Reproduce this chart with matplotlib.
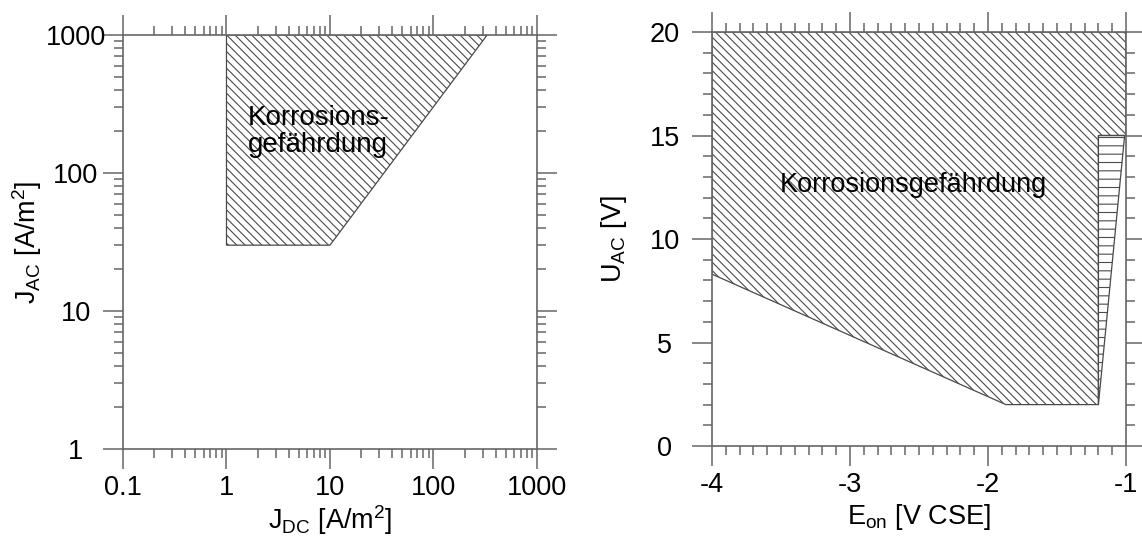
import numpy as np
import matplotlib
matplotlib.use("Agg")
import matplotlib.pyplot as plt
from matplotlib.ticker import LogLocator, MultipleLocator, FixedLocator, NullFormatter

plt.rcParams['font.family'] = ['Liberation Sans', 'DejaVu Sans']
plt.rcParams['mathtext.fontset'] = 'custom'
plt.rcParams['mathtext.rm'] = 'Liberation Sans'
plt.rcParams['mathtext.it'] = 'Liberation Sans:italic'
plt.rcParams['hatch.linewidth'] = 0.8
plt.rcParams['hatch.color'] = '#4a4a4a'

# left panel: J_AC vs J_DC, hatched area
jdc_x = [1, 1, 10, 330]
jac_y = [1000, 30, 30, 1000]
left_ticks = [0.1, 1, 10, 100, 1000]
left_yticks = [1, 10, 100, 1000]
left_ticklabels = ['0.1', '1', '10', '100', '1000']
left_yticklabels = ['1', '10', '100', '1000']

# right panel: U_AC vs E_on
eon_x = [-4, -1, -1, -1.2, -1.2, -1.87, -4]
uac_y = [20, 20, 15, 15, 2, 2, 8.3]
tri_x = [-1.2, -1.01, -1.2]
tri_y = [15, 15, 2]
right_xticks = [-4, -3, -2, -1]
right_yticks = [0, 5, 10, 15, 20]

axcol = '#666666'
fs = 19.5

fig = plt.figure(figsize=(11.42, 5.36), dpi=100)
ax1 = fig.add_axes([0.1077, 0.1623, 0.3625, 0.7724])
ax2 = fig.add_axes([0.6235, 0.1679, 0.3625, 0.7724])


def style(ax):
    for s in ax.spines.values():
        s.set_color(axcol)
        s.set_linewidth(1.2)
    ax.tick_params(which='both', direction='out', top=True, right=True,
                   color=axcol, width=1.1, labelsize=fs)
    ax.tick_params(which='major', length=14.5, pad=4)
    ax.tick_params(which='minor', length=6.5)
    ax.tick_params(axis='y', which='major', pad=19.5)
    for lab in ax.get_yticklabels():
        lab.set_horizontalalignment('center')


# ---- left
ax1.set_xscale('log')
ax1.set_yscale('log')
ax1.set_xlim(0.1, 1000)
ax1.set_ylim(1, 1000)
ax1.fill(jdc_x, jac_y, facecolor='none', edgecolor='#4a4a4a', hatch='\\\\\\\\', linewidth=0.9)
ax1.xaxis.set_major_locator(FixedLocator(left_ticks))
ax1.yaxis.set_major_locator(FixedLocator(left_yticks))
ax1.set_xticklabels(left_ticklabels)
ax1.set_yticklabels(left_yticklabels)
ax1.xaxis.set_minor_locator(LogLocator(base=10, subs=np.arange(2, 10), numticks=20))
ax1.yaxis.set_minor_locator(LogLocator(base=10, subs=np.arange(2, 10), numticks=20))
ax1.xaxis.set_minor_formatter(NullFormatter())
ax1.yaxis.set_minor_formatter(NullFormatter())
style(ax1)
ax1.set_xlabel(r'J$_{\mathrm{DC}}$ [A/m$^{2}$]', fontsize=fs)
ax1.set_ylabel(r'J$_{\mathrm{AC}}$ [A/m$^{2}$]', fontsize=fs, va='center')
ax1.xaxis.set_label_coords(0.5, -0.13)
ax1.yaxis.set_label_coords(-0.232, 0.5)
ax1.text(1.6, 200, 'Korrosions-\ngefährdung', fontsize=20, ha='left', va='center',
         linespacing=1.05)

# ---- right
ax2.set_xlim(-4, -1)
ax2.set_ylim(0, 20)
ax2.fill(eon_x, uac_y, facecolor='none', edgecolor='#4a4a4a', hatch='\\\\\\\\', linewidth=0.9)
ax2.fill(tri_x, tri_y, facecolor='none', edgecolor='#4a4a4a', hatch='--', linewidth=0.9)
ax2.xaxis.set_major_locator(FixedLocator(right_xticks))
ax2.yaxis.set_major_locator(FixedLocator(right_yticks))
ax2.set_xticklabels([str(v) for v in right_xticks])
ax2.set_yticklabels([str(v) for v in right_yticks])
ax2.xaxis.set_minor_locator(MultipleLocator(0.1))
ax2.yaxis.set_minor_locator(MultipleLocator(1))
style(ax2)
ax2.set_xlabel(r'E$_{\mathrm{on}}$ [V CSE]', fontsize=fs)
ax2.set_ylabel(r'U$_{\mathrm{AC}}$ [V]', fontsize=fs, va='center')
ax2.xaxis.set_label_coords(0.5, -0.135)
ax2.yaxis.set_label_coords(-0.238, 0.5)
ax2.text(-2.54, 12.6, 'Korrosionsgefährdung', fontsize=19.5, ha='center', va='center')

fig.savefig('out.png', dpi=100)
